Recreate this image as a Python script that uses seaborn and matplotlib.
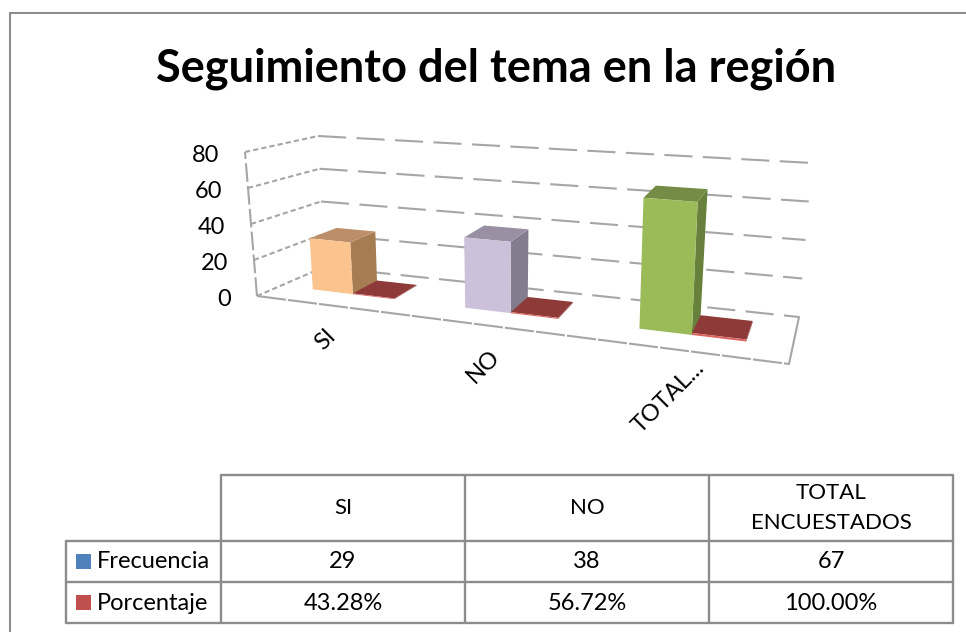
import numpy as np
import pandas as pd
import matplotlib.pyplot as plt
import seaborn as sns
from matplotlib.patches import Rectangle
from matplotlib.transforms import Affine2D, Transform

categories = ["SI", "NO", "TOTAL ENCUESTADOS"]
short_labels = ["SI", "NO", "TOTAL..."]
header_labels = ["SI", "NO", "TOTAL\nENCUESTADOS"]
frecuencia = [29, 38, 67]
porcentaje = [0.4328, 0.5672, 1.0]
porcentaje_labels = ["43.28%", "56.72%", "100.00%"]
y_ticks = [0, 20, 40, 60, 80]

front_colors = ["#FBC48E", "#CCC1DA", "#9BBB59"]
side_colors = ["#A67C52", "#837C8E", "#67803B"]
top_colors = ["#BC8F6A", "#9A90A4", "#748C45"]
red_front, red_top = "#D9625E", "#8E3A38"
key_colors = ["#4F81BD", "#C0504D"]
grid_color = "#A6A6A6"
line_color = "#8C8C8C"

W, H = 966, 632
Y_MAX = 80
# pixel position of the plot box corners: (front/back, left/right, bottom/top)
FL0, FL1 = np.array([257, 296.0]), np.array([245, 152.0])
FR0, FR1 = np.array([789, 364.0]), np.array([799, 195.0])
BL0, BL1 = np.array([324, 267.0]), np.array([318, 136.0])
BR0, BR1 = np.array([799, 317.0]), np.array([812, 163.0])
WARP = 0.815
BAR_FRONT, BAR_BACK = 0.36, 0.77

pixel_tf = Affine2D().scale(1, -1).translate(0, H)


def project(x, value, depth):
    """Category position, value and depth (0 front, 1 back) to image pixels."""
    x, value, depth = np.broadcast_arrays(np.asarray(x, float), np.asarray(value, float), np.asarray(depth, float))
    u = (x + 0.5) / len(categories)
    f = (u * WARP / (1 - u + u * WARP))[..., None]
    h = (value / Y_MAX)[..., None]
    d = depth[..., None]
    front = (FL0 * (1 - f) + FR0 * f) * (1 - h) + (FL1 * (1 - f) + FR1 * f) * h
    back = (BL0 * (1 - f) + BR0 * f) * (1 - h) + (BL1 * (1 - f) + BR1 * f) * h
    return front * (1 - d) + back * d


class FaceProjection(Transform):
    input_dims = output_dims = 2
    is_separable = False

    def __init__(self, bar_depth):
        super().__init__()
        self.bar_depth = bar_depth

    def transform_non_affine(self, values):
        return project(values[:, 0], values[:, 1], self.bar_depth)


sns.set_theme(style="white")
plt.rcParams["font.family"] = ["Lato", "DejaVu Sans"]

fig = plt.figure(figsize=(W / 100, H / 100), dpi=100, facecolor="white")
canvas = fig.add_axes([0, 0, 1, 1], zorder=0)
canvas.set_xlim(0, W)
canvas.set_ylim(H, 0)
canvas.set_axis_off()

# outer chart frame
canvas.plot([10, 10, W], [H, 13, 13], color="#8C8C8C", lw=1.5)
canvas.text(496.5, 69, "Seguimiento del tema en la región", fontsize=32.5, fontweight="bold",
            color="black", ha="center", va="center")


def line(p, q, dash, lw=1.5):
    canvas.plot([p[0], q[0]], [p[1], q[1]], color=grid_color, lw=lw, ls=dash)


# walls and floor
for v in y_ticks:
    front_pt, back_pt = project(-0.5, v, 0), project(-0.5, v, 1)
    end_pt = project(2.5, v, 1)
    line(front_pt, back_pt, (0, (2.5, 1.5)))
    line(back_pt, end_pt, (0, (13.5, 5)))
    canvas.text(front_pt[0] - 26, front_pt[1] + 3, str(v), fontsize=17, color="black", ha="right", va="center")
line(project(-0.5, 0, 0), project(-0.5, 80, 0), (0, (9, 2)))
line(project(-0.5, 0, 0), project(2.5, 0, 0), (0, (14, 1)))
line(project(2.5, 0, 0), project(2.5, 0, 1), "-")

# bars
bars = pd.DataFrame({
    "categoria": categories * 2,
    "serie": ["Frecuencia"] * 3 + ["Porcentaje"] * 3,
    "valor": frecuencia + porcentaje,
})
ax = fig.add_axes([0, 0, 1, 1], zorder=1)
sns.barplot(data=bars, x="categoria", y="valor", hue="serie", order=categories, width=0.55,
            gap=0, legend=False, ax=ax)
ax.set_axis_off()
ax.patch.set_alpha(0)

front_tf = FaceProjection(BAR_FRONT) + pixel_tf
rects = [p for p in ax.patches if isinstance(p, Rectangle)]
for i, rect in enumerate(rects):
    x0, x1 = rect.get_x(), rect.get_x() + rect.get_width()
    v = rect.get_height()
    n = i % 3
    is_freq = i < 3
    rect.set(transform=front_tf, clip_on=False, linewidth=0, zorder=4,
             facecolor=front_colors[n] if is_freq else red_front)
    side = project([x1, x1, x1, x1], [0, 0, v, v], [BAR_FRONT, BAR_BACK, BAR_BACK, BAR_FRONT])
    top = project([x0, x1, x1, x0], [v] * 4, [BAR_FRONT, BAR_FRONT, BAR_BACK, BAR_BACK])
    ax.fill(side[:, 0], side[:, 1], transform=pixel_tf, clip_on=False, lw=0, zorder=3,
            color=side_colors[n] if is_freq else red_top)
    ax.fill(top[:, 0], top[:, 1], transform=pixel_tf, clip_on=False, lw=0, zorder=3,
            color=top_colors[n] if is_freq else red_top)

# category labels under the floor
label_nudge = [(1, 27), (1, 27), (17, 14)]
for n, label in enumerate(short_labels):
    px, py = project(n, 0, 0)
    dx, dy = label_nudge[n]
    canvas.text(px + dx, py + dy, label, fontsize=17, rotation=45, rotation_mode="anchor",
                ha="right", va="center", color="black")

# data table
col_x = [66, 221, 465, 709, 953]
row_y = [475, 541, 582, 623]
table_lw = 1.7
canvas.plot([col_x[1], col_x[-1]], [row_y[0], row_y[0]], color=line_color, lw=table_lw)
for y in row_y[1:]:
    canvas.plot([col_x[0], col_x[-1]], [y, y], color=line_color, lw=table_lw)
canvas.plot([col_x[0], col_x[0]], [row_y[1], row_y[-1]], color=line_color, lw=table_lw)
for x in col_x[1:]:
    canvas.plot([x, x], [row_y[0], row_y[-1]], color=line_color, lw=table_lw)

table_font = 17
centers = [(col_x[i] + col_x[i + 1]) / 2 for i in range(1, 4)]
for cx, head, freq, pct in zip(centers, header_labels, frecuencia, porcentaje_labels):
    canvas.text(cx, 508, head, fontsize=16, ha="center", va="center", color="black", linespacing=1.6)
    canvas.text(cx, 562, str(freq), fontsize=table_font, ha="center", va="center", color="black")
    canvas.text(cx, 603, pct, fontsize=table_font, ha="center", va="center", color="black")
for y, name, key in zip([561, 602], ["Frecuencia", "Porcentaje"], key_colors):
    canvas.add_patch(Rectangle((76, y - 7.5), 15, 15, facecolor=key, edgecolor="none"))
    canvas.text(97, y + 1, name, fontsize=table_font, ha="left", va="center", color="black")

fig.savefig("out.png", dpi=100)
